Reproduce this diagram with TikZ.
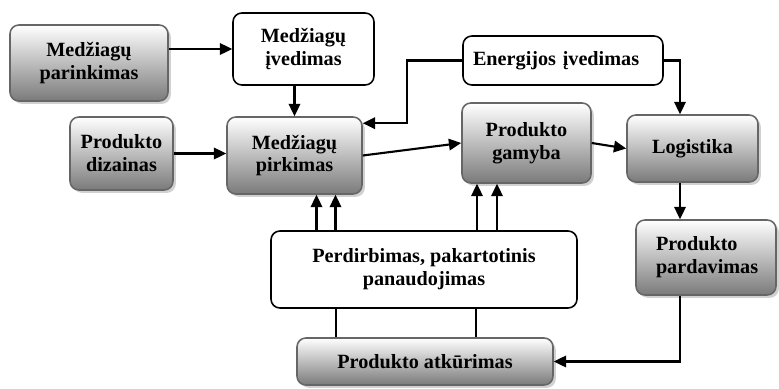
\documentclass[tikz,border=0pt]{standalone}
\usepackage{fontspec}
\setmainfont{Liberation Serif}
\usetikzlibrary{arrows.meta, shadows}

\tikzset{
  boxtext/.style={align=center, inner sep=0pt, font=\bfseries\fontsize{11.5}{13}\selectfont},
  graybox/.style={boxtext, draw=black!60, line width=0.9pt, rounded corners=5pt,
    top color=white, bottom color=black!52,
    drop shadow={shadow xshift=1.6pt, shadow yshift=-1.6pt, fill=black!30, opacity=.6}},
  whitebox/.style={boxtext, draw=black, line width=0.9pt, rounded corners=5pt, fill=white},
  arr/.style={line width=1.2pt, -{Triangle[length=7pt, width=6.5pt]}},
  link/.style={line width=1.2pt}
}

\begin{document}
\begin{tikzpicture}[x=0.02cm, y=-0.02cm]
\useasboundingbox (0,0) rectangle (779,389);

% top row
\node[graybox, minimum width=3.16cm, minimum height=1.52cm] (parinkimas) at (89,63) {Medžiagų\\parinkimas};
\node[whitebox, minimum width=2.82cm, minimum height=1.44cm] (ivedimas) at (303.5,49) {Medžiagų\\įvedimas};
\node[whitebox, minimum height=0.98cm, text width=3.6cm, inner xsep=0.2cm, align=left] (energija) at (563,60.5) {Energijos įvedimas};

% middle row
\node[graybox, minimum width=2.06cm, minimum height=1.46cm] (dizainas) at (121.5,153.5) {Produkto\\dizainas};
\node[graybox, minimum width=2.7cm, minimum height=1.54cm] (pirkimas) at (294.5,155.5) {Medžiagų\\pirkimas};
\node[graybox, minimum width=2.58cm, minimum height=1.6cm] (gamyba) at (526.5,143) {Produkto\\gamyba};
\node[graybox, minimum width=2.62cm, minimum height=1.34cm] (logistika) at (692.5,148.5) {Logistika};

% bottom rows
\node[whitebox, minimum width=6.12cm, minimum height=1.54cm] (perdirbimas) at (424,269.5) {Perdirbimas, pakartotinis\\panaudojimas};
\node[graybox, minimum height=1.5cm, text width=2.0cm, inner xsep=0.4cm, align=left] (pardavimas) at (706,257.5) {Produkto\\pardavimas};
\node[graybox, minimum width=5.12cm, minimum height=0.94cm] (atkurimas) at (425,361.5) {Produkto atkūrimas};

% connectors
\draw[arr] (parinkimas.east |- ivedimas.west) -- (ivedimas.west);
\draw[arr] (ivedimas.south -| pirkimas.north) -- (pirkimas.north);
\draw[arr] (dizainas.east) -- (dizainas.east -| pirkimas.west);
\draw[arr] (energija.west) -- ++(-55,0) |- ([yshift=-0.14cm]pirkimas.north east);
\draw[arr] (pirkimas.east) -- (gamyba.west);
\draw[arr] (gamyba.east) -- (logistika.west);
\draw[arr] (energija.east) -| ([xshift=-0.25cm]logistika.north);
\draw[arr] ([xshift=-0.25cm]logistika.south) -- ([xshift=-0.25cm]logistika.south |- pardavimas.north);
\draw[arr] ([xshift=-0.25cm]logistika.south |- pardavimas.south) |- (atkurimas.east);

\foreach \dx in {22,41}
  \draw[arr] ([xshift=\dx*0.02cm]pirkimas.south |- perdirbimas.north) -- ([xshift=\dx*0.02cm]pirkimas.south);
\foreach \dx in {-49.5,-29.5}
  \draw[arr] ([xshift=\dx*0.02cm]gamyba.south |- perdirbimas.north) -- ([xshift=\dx*0.02cm]gamyba.south);
\foreach \dx in {-88,52}
  \draw[link] ([xshift=\dx*0.02cm]perdirbimas.south) -- ([xshift=\dx*0.02cm]perdirbimas.south |- atkurimas.north);

\end{tikzpicture}
\end{document}
